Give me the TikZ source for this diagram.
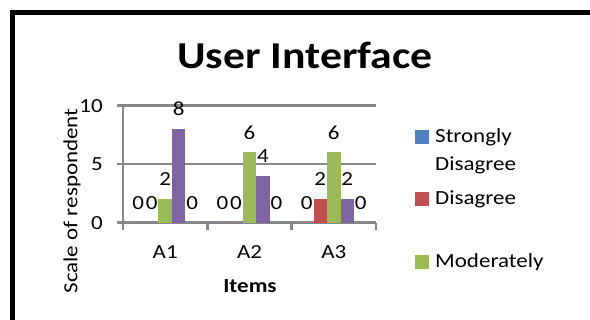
\documentclass[tikz,border=0pt]{standalone}
\usepackage{fontspec}
\setmainfont{Carlito}[FakeStretch=1.15]
\usetikzlibrary{calc,positioning}
\definecolor{SerBlue}{HTML}{4F81BD}
\definecolor{SerRed}{HTML}{C0504D}
\definecolor{SerGreen}{HTML}{9BBB59}
\definecolor{SerViolet}{HTML}{8064A2}
\definecolor{SerAqua}{HTML}{4BACC6}
\definecolor{GridClr}{HTML}{878787}

\begin{document}
\begin{tikzpicture}[x=1pt,y=-1pt,
  gridline/.style={GridClr,line width=2.6pt},
  txt/.style={font=\fontsize{20}{22}\selectfont,inner sep=0pt},
  keybox/.style={minimum size=14pt,inner sep=0pt}]
\useasboundingbox (0,0) rectangle (590,320);
\clip (0,0) rectangle (590,320);
\draw[line width=4.5pt] (12.5,330) -- (12.5,12.5) -- (600,12.5);

\node[font=\bfseries\fontsize{38}{40}\selectfont,inner sep=0pt] (title) at (305,55) {User Interface};

\foreach \v in {0,5,10}{
  \draw[gridline] (117,{222.7-11.7*\v}) -- (376,{222.7-11.7*\v});
  \node[txt,anchor=east] (y\v) at (103,{222.7-11.7*\v}) {\v};
}
\draw[gridline] (123,105) -- (123,230);
\foreach \i in {1,2,3}
  \draw[gridline] ({123+84.3*\i},222.7) -- ({123+84.3*\i},230);

\foreach \s/\clr/\va/\vb/\vc in {0/SerBlue/0/0/0,1/SerRed/0/0/2,2/SerGreen/2/6/6,3/SerViolet/8/4/2,4/SerAqua/0/0/0}{
  \foreach \c/\v in {0/\va,1/\vb,2/\vc}{
    \fill[\clr] ({131.4+84.3*\c+13.5*\s},222.7) rectangle ++(13.5,{-11.7*\v});
    \node[txt] (v\s\c) at ({138.2+84.3*\c+13.5*\s},{202.7-11.7*\v}) {\v};
  }
}

\foreach \c/\lab in {0/A1,1/A2,2/A3}
  \node[txt] (x\c) at ({165.2+84.3*\c},252) {\lab};
\node[txt,font=\bfseries\fontsize{20}{22}\selectfont] (xtitle) at (250,286) {Items};
\node[txt,rotate=90] (ytitle) at (72,201) {Scale of respondent};

\node[keybox,fill=SerBlue] (k1) at (422,137) {};
\node[txt,anchor=west] (t1) at (435,137) {Strongly};
\node[txt,anchor=west] (t1b) at (435,165) {Disagree};
\node[keybox,fill=SerRed] (k2) at (422,199) {};
\node[txt,anchor=west] (t2) at (435,199) {Disagree};
\node[keybox,fill=SerGreen] (k3) at (422,262) {};
\node[txt,anchor=west] (t3) at (435,262) {Moderately};
\end{tikzpicture}
\end{document}
